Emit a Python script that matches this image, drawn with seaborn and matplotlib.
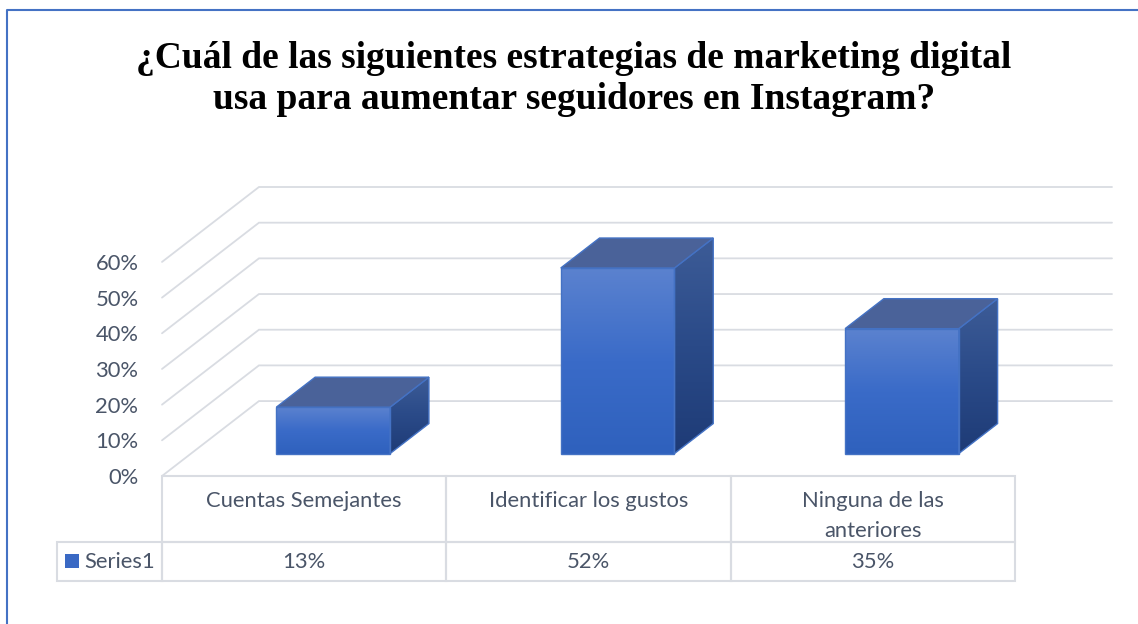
import numpy as np
import pandas as pd
import matplotlib
matplotlib.use("Agg")
from matplotlib import pyplot as plt
from matplotlib.patches import Polygon, Rectangle
from matplotlib.lines import Line2D
from matplotlib.colors import LinearSegmentedColormap
import seaborn as sns

categories = ["Cuentas Semejantes", "Identificar los gustos", "Ninguna de las\nanteriores"]
values = [0.13, 0.52, 0.35]
value_labels = ["13%", "52%", "35%"]
tick_values = [0, 0.1, 0.2, 0.3, 0.4, 0.5, 0.6]
tick_labels = ["0%", "10%", "20%", "30%", "40%", "50%", "60%"]
series_name = "Series1"
title = "¿Cuál de las siguientes estrategias de marketing digital\nusa para aumentar seguidores en Instagram?"

W, H = 1138, 624
DX, DY = 0.341, 0.21   # depth of the 3d floor in data units
F0, F1 = 0.3, 0.7      # bars sit between these depth fractions
GRID = "#d9dce2"
TXT = "#4a5568"
EDGE = "#4472c4"
FS = 15.8

front_cmap = LinearSegmentedColormap.from_list("front", ["#2f61bd", "#3a6bc8", "#5b82cf"])
side_cmap = LinearSegmentedColormap.from_list("side", ["#1e3b76", "#2a4a88", "#3d5c97"])

sns.set_theme(style="white")
plt.rcParams["font.family"] = ["Lato", "DejaVu Sans"]


def px(x0, y0, x1, y1):
    return [x0 / W, 1 - y1 / H, (x1 - x0) / W, (y1 - y0) / H]


fig = plt.figure(figsize=(W / 100, H / 100), dpi=100)
ax = fig.add_axes(px(162, 187, 1112, 476))

df = pd.DataFrame({"cat": categories, "val": values})
sns.barplot(data=df, x="cat", y="val", width=0.4, ax=ax, color="#3a69c4", saturation=1)

# walls: back gridlines + left side diagonals
for v in tick_values:
    ax.plot([-0.5, -0.5 + DX, 2.5 + DX], [v, v + DY, v + DY], color=GRID, lw=1.3,
            zorder=0, clip_on=False, solid_joinstyle="miter")

grad = np.linspace(0, 1, 256).reshape(-1, 1)
ddx, ddy = (F1 - F0) * DX, (F1 - F0) * DY
for p in list(ax.patches):
    x0 = p.get_x() + F0 * DX
    y0 = F0 * DY
    w, h = p.get_width(), p.get_height()
    p.set_x(x0)
    p.set_y(y0)
    p.set_facecolor("none")
    p.set_edgecolor(EDGE)
    p.set_linewidth(1)
    p.set_zorder(4)
    im = ax.imshow(grad, origin="lower", extent=[x0, x0 + w, y0, y0 + h], cmap=front_cmap,
                   aspect="auto", zorder=3)
    im.set_clip_path(p)

    side = Polygon([(x0 + w, y0), (x0 + w + ddx, y0 + ddy), (x0 + w + ddx, y0 + h + ddy),
                    (x0 + w, y0 + h)], closed=True, facecolor="none", edgecolor=EDGE, lw=1, zorder=4)
    ax.add_patch(side)
    im2 = ax.imshow(grad, origin="lower", extent=[x0 + w, x0 + w + ddx, y0, y0 + h + ddy],
                    cmap=side_cmap, aspect="auto", zorder=3)
    im2.set_clip_path(side)

    top = Polygon([(x0, y0 + h), (x0 + ddx, y0 + h + ddy), (x0 + w + ddx, y0 + h + ddy),
                   (x0 + w, y0 + h)], closed=True, facecolor="#4a6299", edgecolor=EDGE, lw=1, zorder=4)
    ax.add_patch(top)

ax.set_xlim(-0.5, 2.5 + DX)
ax.set_ylim(0, 0.6 + DY)
ax.set_xticks([])
ax.set_yticks(tick_values, tick_labels)
ax.tick_params(axis="y", length=0, pad=17, labelsize=FS, labelcolor=TXT)
ax.set_xlabel("")
ax.set_ylabel("")
for s in ax.spines.values():
    s.set_visible(False)
ax.patch.set_alpha(0)

# data table under the chart
unit = 284.33
leg_w = 105 / unit
tab = fig.add_axes(px(57, 476, 1015, 581))
tab.set_xlim(-0.5 - leg_w, 2.5)
tab.set_ylim(105, 0)
tab.axis("off")
for i, (c, lab) in enumerate(zip(categories, value_labels)):
    tab.add_patch(Rectangle((i - 0.5, 0), 1, 66, fill=False, edgecolor=GRID, lw=1.5, clip_on=False))
    tab.add_patch(Rectangle((i - 0.5, 66), 1, 39, fill=False, edgecolor=GRID, lw=1.5, clip_on=False))
    tab.text(i, 15, c, ha="center", va="top", fontsize=FS, color=TXT, linespacing=1.6)
    tab.text(i, 86, lab, ha="center", va="center", fontsize=FS, color=TXT)
tab.add_patch(Rectangle((-0.5 - leg_w, 66), leg_w, 39, fill=False, edgecolor=GRID, lw=1.5, clip_on=False))
tab.add_patch(Rectangle((-0.5 - leg_w + 8 / unit, 78), 14 / unit, 14, facecolor="#3a69c4", edgecolor="none"))
tab.text(-0.5 - leg_w + 27 / unit, 86, series_name, ha="left", va="center", fontsize=FS, color=TXT)

fig.text(574 / W, 1 - 79 / H, title, ha="center", va="center", fontsize=27, fontweight="bold",
         family=["Liberation Serif", "DejaVu Serif"], color="black", linespacing=1.2)

fig.add_artist(Line2D([7 / W, 7 / W, 1], [0, 1 - 10 / H, 1 - 10 / H], transform=fig.transFigure,
                      color=EDGE, lw=1.5))

fig.savefig("out.png", dpi=100)
